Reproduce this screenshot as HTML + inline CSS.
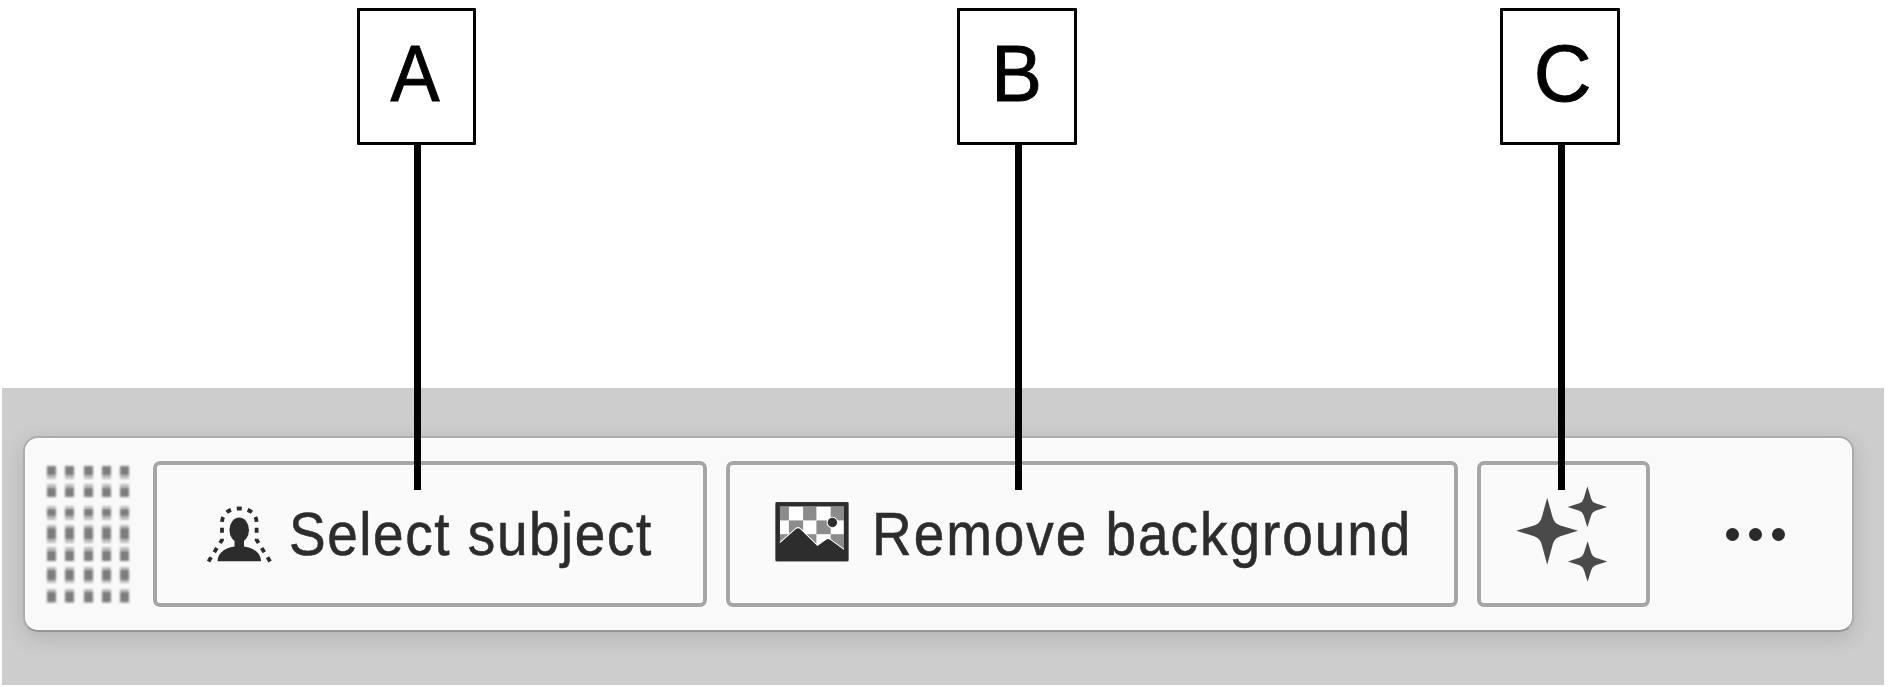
<!DOCTYPE html>
<html>
<head>
<meta charset="utf-8">
<style>
html,body{margin:0;padding:0;background:#fff;}
body{width:1888px;height:687px;overflow:hidden;position:relative;font-family:"Liberation Sans",sans-serif;}
.abs{position:absolute;}
#band{left:2px;top:388px;width:1882px;height:296.5px;background:#cdcdcd;}
#panel{left:22.5px;top:435.5px;width:1831px;height:196px;border-radius:15px;background:#f9f9f9;box-sizing:border-box;border:2px solid #acacac;border-bottom-color:#949494;box-shadow:0 6px 22px rgba(0,0,0,0.13),inset 0 0 0 1.5px #fff;}
.dot{position:absolute;width:9.2px;}
#dots{position:absolute;left:0;top:0;width:200px;height:687px;filter:blur(0.8px);}
.btn{position:absolute;top:461px;height:146px;box-sizing:border-box;border:4px solid #a6a6a6;border-radius:7px;background:#fafafa;box-shadow:0 0 0 1.2px #fff,inset 0 0 0 1px #fff;}
.txt{position:absolute;color:#2c2c2c;font-size:61px;line-height:1;white-space:nowrap;transform-origin:0 0;-webkit-text-stroke:0.6px #2c2c2c;}
.lbl{position:absolute;top:8.4px;height:136.2px;box-sizing:border-box;border:3.5px solid #000;border-radius:1px;background:#fff;}
.lbl span{position:absolute;left:0;right:0;text-align:center;font-size:80px;line-height:1;color:#000;-webkit-text-stroke:1px #000;}
.stem{position:absolute;top:143px;width:7px;height:347px;background:#000;}
.edot{position:absolute;width:13px;height:13px;border-radius:50%;background:#2a2a2a;top:527.5px;}
</style>
</head>
<body>
<div id="band" class="abs"></div>
<div id="panel" class="abs"></div>
<div id="dots"><div class="dot" style="left:47.0px;top:465.5px;height:13.9px;background:linear-gradient(to bottom,#bdbdbd 0,#bdbdbd 0.0px,#7d7d7d 0.0px,#7d7d7d 9.3px,#bdbdbd 9.3px)"></div><div class="dot" style="left:65.3px;top:465.5px;height:13.9px;background:linear-gradient(to bottom,#bdbdbd 0,#bdbdbd 0.0px,#7d7d7d 0.0px,#7d7d7d 9.3px,#bdbdbd 9.3px)"></div><div class="dot" style="left:83.6px;top:465.5px;height:13.9px;background:linear-gradient(to bottom,#bdbdbd 0,#bdbdbd 0.0px,#7d7d7d 0.0px,#7d7d7d 9.3px,#bdbdbd 9.3px)"></div><div class="dot" style="left:101.9px;top:465.5px;height:13.9px;background:linear-gradient(to bottom,#bdbdbd 0,#bdbdbd 0.0px,#7d7d7d 0.0px,#7d7d7d 9.3px,#bdbdbd 9.3px)"></div><div class="dot" style="left:120.2px;top:465.5px;height:13.9px;background:linear-gradient(to bottom,#bdbdbd 0,#bdbdbd 0.0px,#7d7d7d 0.0px,#7d7d7d 9.3px,#bdbdbd 9.3px)"></div><div class="dot" style="left:47.0px;top:483.5px;height:13.9px;background:linear-gradient(to bottom,#bdbdbd 0,#bdbdbd 4.1px,#7d7d7d 4.1px,#7d7d7d 13.9px,#bdbdbd 13.9px)"></div><div class="dot" style="left:65.3px;top:483.5px;height:13.9px;background:linear-gradient(to bottom,#bdbdbd 0,#bdbdbd 4.1px,#7d7d7d 4.1px,#7d7d7d 13.9px,#bdbdbd 13.9px)"></div><div class="dot" style="left:83.6px;top:483.5px;height:13.9px;background:linear-gradient(to bottom,#bdbdbd 0,#bdbdbd 4.1px,#7d7d7d 4.1px,#7d7d7d 13.9px,#bdbdbd 13.9px)"></div><div class="dot" style="left:101.9px;top:483.5px;height:13.9px;background:linear-gradient(to bottom,#bdbdbd 0,#bdbdbd 4.1px,#7d7d7d 4.1px,#7d7d7d 13.9px,#bdbdbd 13.9px)"></div><div class="dot" style="left:120.2px;top:483.5px;height:13.9px;background:linear-gradient(to bottom,#bdbdbd 0,#bdbdbd 4.1px,#7d7d7d 4.1px,#7d7d7d 13.9px,#bdbdbd 13.9px)"></div><div class="dot" style="left:47.0px;top:506.2px;height:13.9px;background:linear-gradient(to bottom,#bdbdbd 0,#bdbdbd 3.5px,#7d7d7d 3.5px,#7d7d7d 10.4px,#bdbdbd 10.4px)"></div><div class="dot" style="left:65.3px;top:506.2px;height:13.9px;background:linear-gradient(to bottom,#bdbdbd 0,#bdbdbd 3.5px,#7d7d7d 3.5px,#7d7d7d 10.4px,#bdbdbd 10.4px)"></div><div class="dot" style="left:83.6px;top:506.2px;height:13.9px;background:linear-gradient(to bottom,#bdbdbd 0,#bdbdbd 3.5px,#7d7d7d 3.5px,#7d7d7d 10.4px,#bdbdbd 10.4px)"></div><div class="dot" style="left:101.9px;top:506.2px;height:13.9px;background:linear-gradient(to bottom,#bdbdbd 0,#bdbdbd 3.5px,#7d7d7d 3.5px,#7d7d7d 10.4px,#bdbdbd 10.4px)"></div><div class="dot" style="left:120.2px;top:506.2px;height:13.9px;background:linear-gradient(to bottom,#bdbdbd 0,#bdbdbd 3.5px,#7d7d7d 3.5px,#7d7d7d 10.4px,#bdbdbd 10.4px)"></div><div class="dot" style="left:47.0px;top:524.8px;height:18.0px;background:linear-gradient(to bottom,#bdbdbd 0,#bdbdbd 3.5px,#7d7d7d 3.5px,#7d7d7d 13.9px,#bdbdbd 13.9px)"></div><div class="dot" style="left:65.3px;top:524.8px;height:18.0px;background:linear-gradient(to bottom,#bdbdbd 0,#bdbdbd 3.5px,#7d7d7d 3.5px,#7d7d7d 13.9px,#bdbdbd 13.9px)"></div><div class="dot" style="left:83.6px;top:524.8px;height:18.0px;background:linear-gradient(to bottom,#bdbdbd 0,#bdbdbd 3.5px,#7d7d7d 3.5px,#7d7d7d 13.9px,#bdbdbd 13.9px)"></div><div class="dot" style="left:101.9px;top:524.8px;height:18.0px;background:linear-gradient(to bottom,#bdbdbd 0,#bdbdbd 3.5px,#7d7d7d 3.5px,#7d7d7d 13.9px,#bdbdbd 13.9px)"></div><div class="dot" style="left:120.2px;top:524.8px;height:18.0px;background:linear-gradient(to bottom,#bdbdbd 0,#bdbdbd 3.5px,#7d7d7d 3.5px,#7d7d7d 13.9px,#bdbdbd 13.9px)"></div><div class="dot" style="left:47.0px;top:547.4px;height:14.0px;background:linear-gradient(to bottom,#bdbdbd 0,#bdbdbd 3.5px,#7d7d7d 3.5px,#7d7d7d 14.0px,#bdbdbd 14.0px)"></div><div class="dot" style="left:65.3px;top:547.4px;height:14.0px;background:linear-gradient(to bottom,#bdbdbd 0,#bdbdbd 3.5px,#7d7d7d 3.5px,#7d7d7d 14.0px,#bdbdbd 14.0px)"></div><div class="dot" style="left:83.6px;top:547.4px;height:14.0px;background:linear-gradient(to bottom,#bdbdbd 0,#bdbdbd 3.5px,#7d7d7d 3.5px,#7d7d7d 14.0px,#bdbdbd 14.0px)"></div><div class="dot" style="left:101.9px;top:547.4px;height:14.0px;background:linear-gradient(to bottom,#bdbdbd 0,#bdbdbd 3.5px,#7d7d7d 3.5px,#7d7d7d 14.0px,#bdbdbd 14.0px)"></div><div class="dot" style="left:120.2px;top:547.4px;height:14.0px;background:linear-gradient(to bottom,#bdbdbd 0,#bdbdbd 3.5px,#7d7d7d 3.5px,#7d7d7d 14.0px,#bdbdbd 14.0px)"></div><div class="dot" style="left:47.0px;top:567.2px;height:16.3px;background:linear-gradient(to bottom,#bdbdbd 0,#bdbdbd 3.5px,#7d7d7d 3.5px,#7d7d7d 12.8px,#bdbdbd 12.8px)"></div><div class="dot" style="left:65.3px;top:567.2px;height:16.3px;background:linear-gradient(to bottom,#bdbdbd 0,#bdbdbd 3.5px,#7d7d7d 3.5px,#7d7d7d 12.8px,#bdbdbd 12.8px)"></div><div class="dot" style="left:83.6px;top:567.2px;height:16.3px;background:linear-gradient(to bottom,#bdbdbd 0,#bdbdbd 3.5px,#7d7d7d 3.5px,#7d7d7d 12.8px,#bdbdbd 12.8px)"></div><div class="dot" style="left:101.9px;top:567.2px;height:16.3px;background:linear-gradient(to bottom,#bdbdbd 0,#bdbdbd 3.5px,#7d7d7d 3.5px,#7d7d7d 12.8px,#bdbdbd 12.8px)"></div><div class="dot" style="left:120.2px;top:567.2px;height:16.3px;background:linear-gradient(to bottom,#bdbdbd 0,#bdbdbd 3.5px,#7d7d7d 3.5px,#7d7d7d 12.8px,#bdbdbd 12.8px)"></div><div class="dot" style="left:47.0px;top:589.3px;height:13.4px;background:linear-gradient(to bottom,#bdbdbd 0,#bdbdbd 3.5px,#7d7d7d 3.5px,#7d7d7d 13.4px,#bdbdbd 13.4px)"></div><div class="dot" style="left:65.3px;top:589.3px;height:13.4px;background:linear-gradient(to bottom,#bdbdbd 0,#bdbdbd 3.5px,#7d7d7d 3.5px,#7d7d7d 13.4px,#bdbdbd 13.4px)"></div><div class="dot" style="left:83.6px;top:589.3px;height:13.4px;background:linear-gradient(to bottom,#bdbdbd 0,#bdbdbd 3.5px,#7d7d7d 3.5px,#7d7d7d 13.4px,#bdbdbd 13.4px)"></div><div class="dot" style="left:101.9px;top:589.3px;height:13.4px;background:linear-gradient(to bottom,#bdbdbd 0,#bdbdbd 3.5px,#7d7d7d 3.5px,#7d7d7d 13.4px,#bdbdbd 13.4px)"></div><div class="dot" style="left:120.2px;top:589.3px;height:13.4px;background:linear-gradient(to bottom,#bdbdbd 0,#bdbdbd 3.5px,#7d7d7d 3.5px,#7d7d7d 13.4px,#bdbdbd 13.4px)"></div></div>

<div class="btn" style="left:152.5px;width:554px;"></div>
<div class="btn" style="left:725.5px;width:732px;"></div>
<div class="btn" style="left:1476.6px;width:173.2px;"></div>

<div id="t1" class="txt" style="left:289.4px;top:503.8px;letter-spacing:1.75px;transform:scaleX(0.9);">Select subject</div>
<div id="t2" class="txt" style="left:872px;top:503.8px;letter-spacing:2.2px;transform:scaleX(0.9);">Remove background</div>

<svg class="abs" style="left:0;top:0" width="1888" height="687" viewBox="0 0 1888 687">
<!-- person icon -->
<path d="M239.3 508.5 C231 508.5, 222 512, 222 523 L222 540 L208.5 561.5 M239.3 508.5 C247.6 508.5, 256.6 512, 256.6 523 L256.6 540 L270.1 561.5" fill="none" stroke="#2c2c2c" stroke-width="3.8" stroke-dasharray="5 5.9" stroke-dashoffset="2.5"/>
<ellipse cx="239.2" cy="530" rx="9.8" ry="12.4" fill="#2c2c2c"/>
<rect x="234.5" y="538" width="9.5" height="10" fill="#2c2c2c"/>
<path d="M217.5 561.3 C217.5 552, 227 546.2, 239.2 546.2 C251.5 546.2, 261 552, 261 561.3 Z" fill="#2c2c2c"/>
<!-- image icon -->
<rect x="775.6" y="502.2" width="72.8" height="59" rx="1.5" fill="#2d2d2d"/>
<rect x="779.8" y="506.3" width="64.1" height="50.8" fill="#ffffff"/>
<g fill="#8c8c8c">
<rect x="779.8" y="506.3" width="9.1" height="14.1"/>
<rect x="803.1" y="506.3" width="13.3" height="14.1"/>
<rect x="830.7" y="506.3" width="13.2" height="14.1"/>
<rect x="788.9" y="520.4" width="14.2" height="13.8"/>
<rect x="816.4" y="520.4" width="14.3" height="13.8"/>
<rect x="779.8" y="534.2" width="9.1" height="14"/>
<rect x="803.1" y="534.2" width="13.3" height="14"/>
<rect x="830.7" y="534.2" width="13.2" height="14"/>
</g>
<path d="M777 545.8 L796 529 Q798 527.3 800 529 L817.4 545.9 L826.5 539.5 Q828.1 538.5 829.7 539.5 L846.5 551.8 L846.5 560 L777 560 Z" fill="#2d2d2d" stroke="#ffffff" stroke-width="2" paint-order="stroke" stroke-linejoin="round"/>
<path d="M775.6 502.2 h72.8 v59 h-72.8 Z M779.8 506.3 v50.8 h64.1 v-50.8 Z" fill="#2d2d2d" fill-rule="evenodd"/>
<circle cx="832.4" cy="522.5" r="4.7" fill="#2d2d2d" stroke="#fff" stroke-width="2" paint-order="stroke"/>
<!-- sparkles -->
<g fill="#4a4a4a">
<path id="bigstar" d="M1547.20 497.80 L1552.60 517.15 Q1554.40 523.60 1560.30 525.40 L1578.00 530.80 L1560.30 536.20 Q1554.40 538.00 1552.60 544.70 L1547.20 564.80 L1541.80 544.70 Q1540.00 538.00 1534.10 536.20 L1516.40 530.80 L1534.10 525.40 Q1540.00 523.60 1541.80 517.15 L1547.20 497.80 Z"/>
<path id="st1" d="M1587.40 486.30 L1591.14 498.70 Q1592.20 502.20 1595.48 503.26 L1607.10 507.00 L1595.48 510.74 Q1592.20 511.80 1591.14 515.21 L1587.40 527.30 L1583.66 515.21 Q1582.60 511.80 1579.32 510.74 L1567.70 507.00 L1579.32 503.26 Q1582.60 502.20 1583.66 498.70 L1587.40 486.30 Z"/>
<path id="st2" d="M1587.60 541.30 L1591.34 553.31 Q1592.40 556.70 1595.68 557.76 L1607.30 561.50 L1595.68 565.24 Q1592.40 566.30 1591.34 569.69 L1587.60 581.70 L1583.86 569.69 Q1582.80 566.30 1579.52 565.24 L1567.90 561.50 L1579.52 557.76 Q1582.80 556.70 1583.86 553.31 L1587.60 541.30 Z"/>
</g>
</svg>
<div class="edot" style="left:1726px;"></div>
<div class="edot" style="left:1749px;"></div>
<div class="edot" style="left:1772px;"></div>

<div class="lbl" style="left:357.3px;width:118.8px;"><span id="la" style="top:23px;transform:translateX(-1.3px) scaleX(0.92);">A</span></div>
<div class="lbl" style="left:957.3px;width:119.3px;"><span style="top:23px;transform:translateX(0px) scaleX(0.95);">B</span></div>
<div class="lbl" style="left:1500.4px;width:119.4px;"><span style="top:23px;transform:translateX(2.6px);">C</span></div>
<div class="stem" style="left:413.5px;"></div>
<div class="stem" style="left:1014.5px;"></div>
<div class="stem" style="left:1557.5px;"></div>
</body>
</html>
